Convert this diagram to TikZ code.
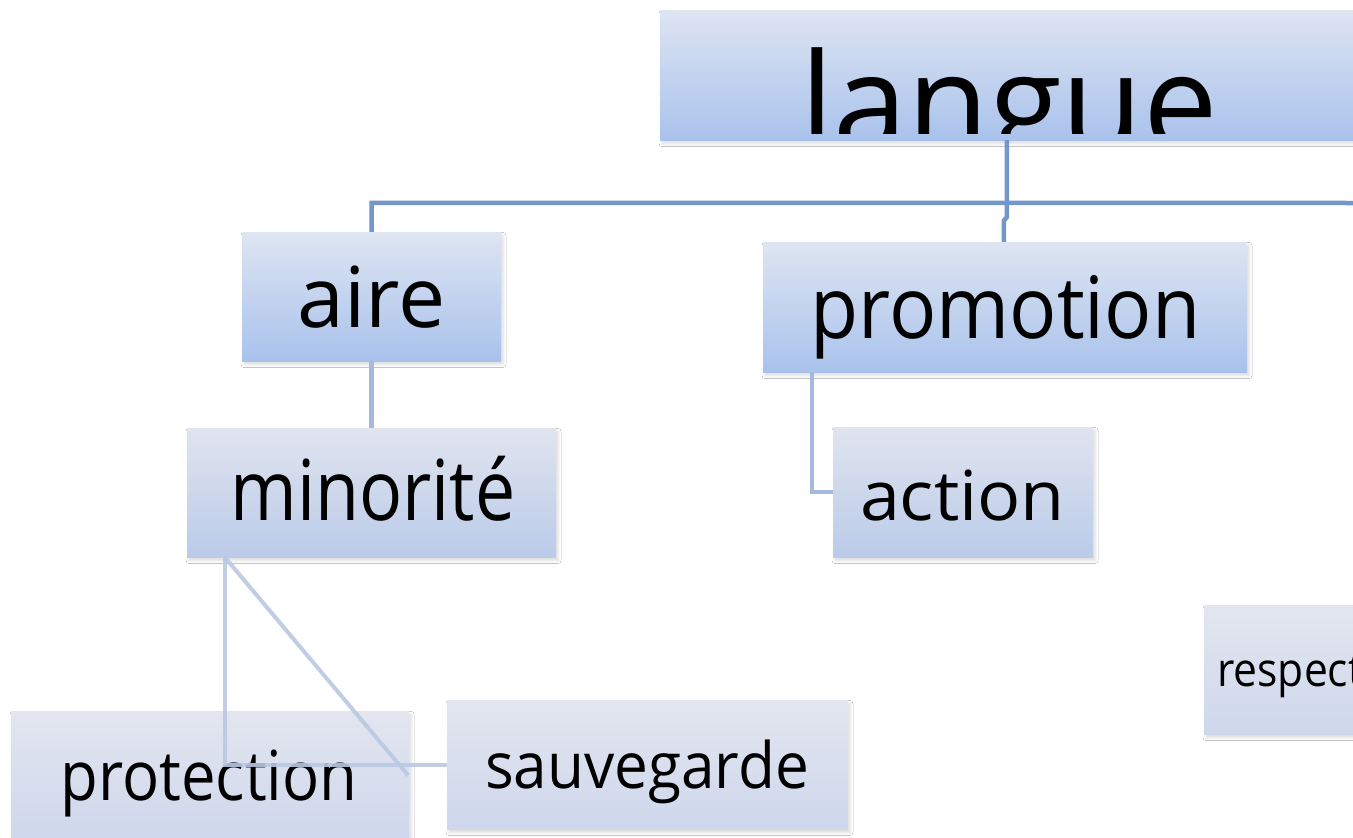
\documentclass[tikz,border=0pt]{standalone}
\usepackage{fontspec}
\setmainfont{Open Sans}
\usetikzlibrary{calc,shadows.blur}
\definecolor{topA}{RGB}{222,229,242}
\definecolor{botA}{RGB}{169,194,236}
\definecolor{topB}{RGB}{224,228,239}
\definecolor{botB}{RGB}{187,203,233}
\definecolor{topC}{RGB}{227,230,239}
\definecolor{botC}{RGB}{206,215,236}
\definecolor{lineA}{RGB}{117,150,201}
\definecolor{lineB}{RGB}{167,185,218}
\definecolor{lineC}{RGB}{186,200,226}
\tikzset{
  box/.style={rectangle, inner sep=0pt, draw=none, shading=axis,
    blur shadow={shadow xshift=2pt, shadow yshift=-3.5pt, shadow opacity=14, shadow blur radius=3pt}},
  lvlA/.style={box, top color=topA, bottom color=botA},
  lvlB/.style={box, top color=topB, bottom color=botB},
  lvlC/.style={box, top color=topC, bottom color=botC},
  lbl/.style={anchor=base, inner sep=0pt, text=black},
  conA/.style={draw=lineA, line width=4.5pt},
  conB/.style={draw=lineB, line width=4.5pt},
  conC/.style={draw=lineC, line width=4pt, opacity=0.9},
}
\newcommand{\wtxt}[3]{\resizebox{#1pt}{\height}{\fontsize{#2}{#2}\selectfont #3}}
\begin{document}
\begin{tikzpicture}[x=1pt,y=-1pt]
\useasboundingbox (0,0) rectangle (1353,838);
\clip (0,0) rectangle (1353,838);
\fill[white] (0,0) rectangle (1353,838);
% boxes
\node[lvlA, minimum width=698pt, minimum height=130pt] (langue) at (1009,75) {};
\node[lvlA, minimum width=259pt, minimum height=129pt] (aire) at (371.5,296.5) {};
\node[lvlA, minimum width=484pt, minimum height=130pt] (promo) at (1005,307) {};
\node[lvlB, minimum width=369pt, minimum height=129pt] (mino) at (371.5,492.5) {};
\node[lvlB, minimum width=260pt, minimum height=130pt] (action) at (963,492) {};
\node[lvlC, minimum width=398pt, minimum height=129pt] (prot) at (210,775.5) {};
\node[lvlC, minimum width=401pt, minimum height=129pt] (sauv) at (647.5,764.5) {};
\node[lvlC, minimum width=190pt, minimum height=129pt] (resp) at (1299,669.5) {};
% texts
\begin{scope}
\clip (660,10) rectangle (1360,133);
\node[lbl] (langueT) at (1009,152) {\wtxt{418}{138}{langue}};
\end{scope}
\node[lbl] (aireT) at (371.5,327) {\wtxt{148}{84}{aire}};
\node[lbl] (promoT) at (1005.5,338) {\wtxt{390}{86}{promotion}};
\node[lbl] (minoT) at (373,520) {\wtxt{285}{84}{minorité}};
\node[lbl] (actionT) at (962.5,520) {\wtxt{205}{69}{action}};
\node[lbl] (protT) at (209,800) {\wtxt{297}{69}{protection}};
\node[lbl] (sauvT) at (647,788) {\wtxt{324}{64}{sauvegarde}};
\node[lbl, anchor=base west] (respT) at (1217,686) {\wtxt{146}{47}{respect}};
% connectors
\coordinate (lgA) at ($(langue.south west)+(347,0)$);
\coordinate (lgB) at ($(langue.south west)+(347,77)$);
\coordinate (lgC) at ($(promo.north west)+(241,-21)$);
\coordinate (hEnd) at (1360,203);
\path[conA] (lgA) -- (lgB) -- (lgC) -- ($(promo.north west)+(241,0)$);
\path[conA] (aire.north) -- ++(0,-29) -- (hEnd);
\path[conB] (aire.south) -- (mino.north);
\coordinate (pA) at ($(promo.south west)+(49,0)$);
\path[conB] (pA) |- (action.west);
\coordinate (mA) at ($(mino.south west)+(38,0)$);
\path[conC] (mA) |- (sauv.west);
\path[conC] (mA) -- ($(prot.east)+(-1,0)$);
\end{tikzpicture}
\end{document}
